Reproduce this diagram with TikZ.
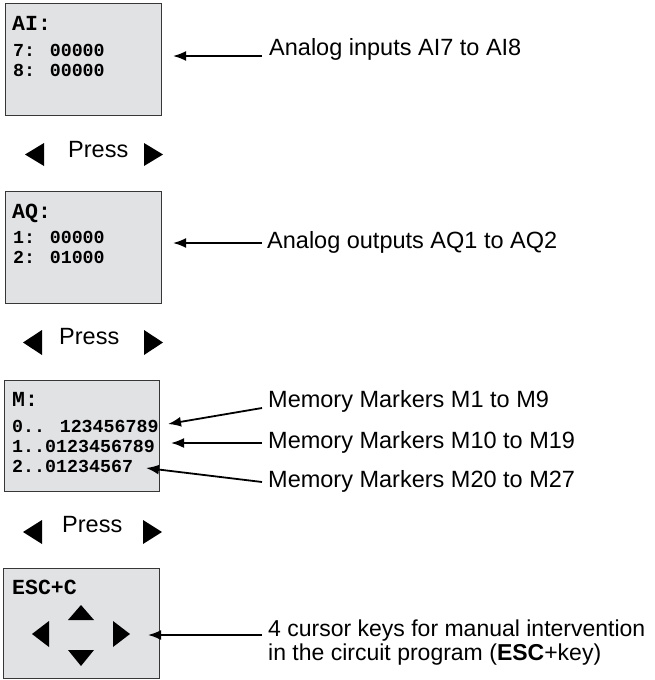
\documentclass[tikz,border=0pt]{standalone}
\usepackage{fontspec}
\setmainfont{Liberation Sans}
\newfontfamily\lcdfont{Liberation Mono}
\usetikzlibrary{arrows.meta}
\definecolor{lcdbg}{RGB}{225,226,228}
\definecolor{lcdborder}{RGB}{55,55,55}
\begin{document}
\begin{tikzpicture}[x=1pt,y=-1pt,
  lcdbox/.style={draw=lcdborder,line width=1.3pt,fill=lcdbg,inner sep=0pt,anchor=north west},
  lcdhead/.style={anchor=base west,inner sep=0pt,font=\lcdfont\bfseries\fontsize{21.5}{21}\selectfont},
  lcdrow/.style={anchor=base west,inner sep=0pt,font=\lcdfont\bfseries\fontsize{18.3}{20}\selectfont},
  lbl/.style={anchor=base west,inner sep=0pt,font=\fontsize{23.5}{21}\selectfont},
  lbltwo/.style={anchor=base west,inner sep=0pt,font=\fontsize{23}{21}\selectfont},
  ptr/.style={-{Latex[length=13pt,width=10pt]},line width=1.8pt},
  keytri/.style={fill=black}
]
\useasboundingbox (0,0) rectangle (655,680);

% ---------- box 1 : AI ----------
\node[lcdbox,minimum width=156pt,minimum height=112pt] (box1) at (5,3) {};
\node[lcdhead] (h1) at (12,30) {AI:};
\node[lcdrow] (r11) at (13,56) {7: 00000};
\node[lcdrow] (r12) at (13,76) {8: 00000};
\node[lbl] (l1) at (269,55) {Analog inputs AI7 to AI8};
\coordinate (t1) at (262,56);
\coordinate (p1) at (173,56);
\draw[ptr] (t1) -- (p1);

% ---------- press 1 ----------
\fill[keytri] (44,143) -- (25,154.5) -- (44,166) -- cycle;
\fill[keytri] (144,143) -- (163,154.5) -- (144,166) -- cycle;
\node[lbl] (press1) at (68,157) {Press};

% ---------- box 2 : AQ ----------
\node[lcdbox,minimum width=156pt,minimum height=112pt] (box2) at (5,191) {};
\node[lcdhead] (h2) at (12,218) {AQ:};
\node[lcdrow] (r21) at (13,243) {1: 00000};
\node[lcdrow] (r22) at (13,263) {2: 01000};
\node[lbl] (l2) at (267,248) {Analog outputs AQ1 to AQ2};
\coordinate (t2) at (262,243);
\coordinate (p2) at (173,243);
\draw[ptr] (t2) -- (p2);

% ---------- press 2 ----------
\fill[keytri] (42,330) -- (23,342.5) -- (42,355) -- cycle;
\fill[keytri] (144,330) -- (163,342.5) -- (144,355) -- cycle;
\node[lbl] (press2) at (59,344) {Press};

% ---------- box 3 : M ----------
\node[lcdbox,minimum width=155pt,minimum height=111pt] (box3) at (4,380) {};
\node[lcdhead] (h3) at (12,406) {M:};
\node[lcdrow] (r31) at (12,432) {0.. 123456789};
\node[lcdrow] (r32) at (12,452) {1..0123456789};
\node[lcdrow] (r33) at (12,472) {2..01234567};
\node[lbl] (l3) at (268,407) {Memory Markers M1 to M9};
\node[lbl] (l4) at (268,448) {Memory Markers M10 to M19};
\node[lbl] (l5) at (268,487) {Memory Markers M20 to M27};
\coordinate (t3) at (262,408);
\coordinate (p3) at (168,424);
\coordinate (t4) at (262,443);
\coordinate (p4) at (171,443);
\coordinate (t5) at (262,482);
\coordinate (p5) at (146,468);
\draw[ptr] (t3) -- (p3);
\draw[ptr] (t4) -- (p4);
\draw[ptr] (t5) -- (p5);

% ---------- press 3 ----------
\fill[keytri] (42,520) -- (23,532) -- (42,544) -- cycle;
\fill[keytri] (143,520) -- (162,532) -- (143,544) -- cycle;
\node[lbl] (press3) at (62,532) {Press};

% ---------- box 4 : ESC+C ----------
\node[lcdbox,minimum width=156pt,minimum height=110pt] (box4) at (3,568) {};
\node[lcdhead] (h4) at (12,594) {ESC+C};
\fill[keytri] (68,620) -- (81,605) -- (94,620) -- cycle;
\fill[keytri] (68,650) -- (81,666) -- (94,650) -- cycle;
\fill[keytri] (49,621) -- (32,634) -- (49,647) -- cycle;
\fill[keytri] (113,621) -- (130,634) -- (113,647) -- cycle;
\node[lbltwo] (l6a) at (268,636) {4 cursor keys for manual intervention};
\node[lbltwo] (l6b) at (268,660) {in the circuit program (\textbf{ESC}+key)};
\coordinate (t6) at (262,635);
\coordinate (p6) at (148,635);
\draw[ptr] (t6) -- (p6);
\end{tikzpicture}
\end{document}
